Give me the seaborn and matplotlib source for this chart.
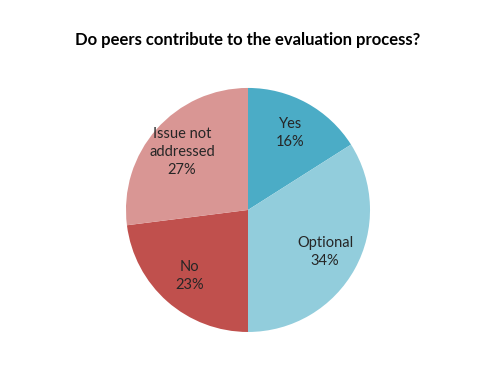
import matplotlib
matplotlib.use("Agg")
import matplotlib.pyplot as plt
import seaborn as sns

categories = ["Yes", "Optional", "No", "Issue not\naddressed"]
shares = [16, 34, 23, 27]
colors = ["#4bacc6", "#92cddc", "#c0504d", "#d99694"]

sns.set_theme(style="white")
plt.rcParams["font.family"] = ["Lato", "DejaVu Sans"]

fig = plt.figure(figsize=(4.95, 3.67), dpi=100)
ax = fig.add_axes([0.2545, 0.0954, 0.493, 0.665])

labels = [f"{c}\n{v}%" for c, v in zip(categories, shares)]
wedges, texts = ax.pie(shares, labels=labels, colors=colors, startangle=90,
                       counterclock=False, labeldistance=0.72,
                       wedgeprops={"linewidth": 0},
                       textprops={"fontsize": 10.5, "color": "#262626",
                                  "linespacing": 1.35})
for t in texts:
    t.set_ha("center")
    t.set_va("center")
ax.set_xlim(-1, 1)
ax.set_ylim(-1, 1)
ax.set_aspect("equal")

fig.text(0.501, 0.891, "Do peers contribute to the evaluation process?",
         ha="center", va="center", fontsize=12, fontweight="bold", color="black")

fig.savefig("out.png", dpi=100)
